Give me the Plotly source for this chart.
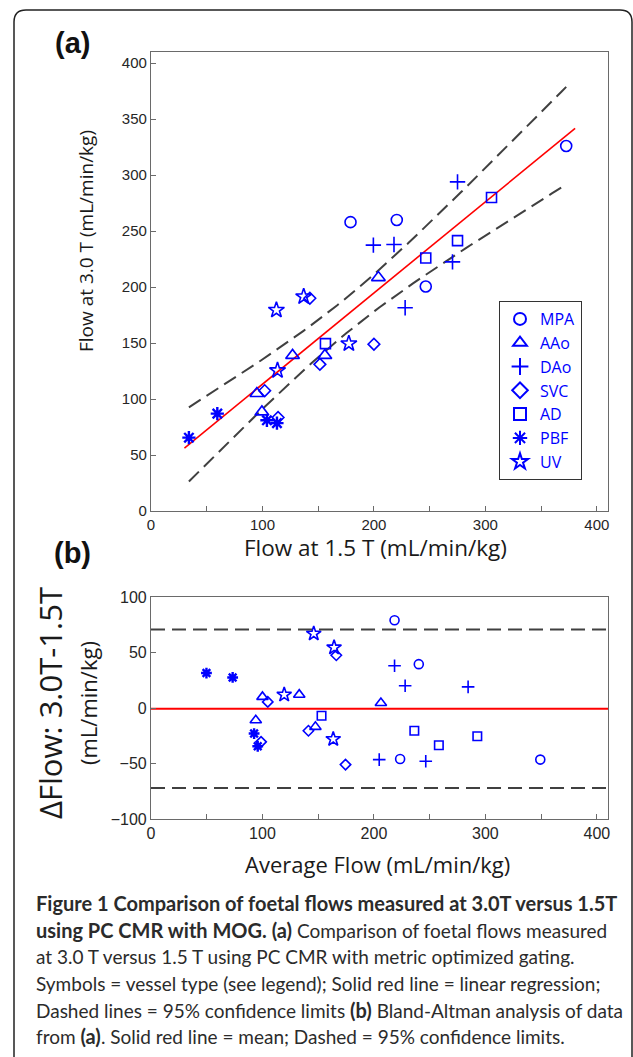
import numpy as np
import plotly.graph_objects as go

W, H = 633, 1057

# ---------------- data ----------------
vessels = ["MPA", "AAo", "DAo", "SVC", "AD", "PBF", "UV"]

mpa_15 = [179.0, 220.5, 246.5, 372.5]
mpa_30 = [258.0, 260.0, 200.5, 326.0]
aao_15 = [95.0, 99.5, 127.0, 156.0, 204.0]
aao_30 = [105.0, 88.5, 139.0, 139.0, 208.5]
dao_15 = [199.5, 218.0, 275.0, 270.5, 228.0]
dao_30 = [237.5, 238.0, 294.0, 222.5, 181.5]
svc_15 = [102.0, 114.0, 151.5, 142.5, 200.0]
svc_30 = [107.5, 83.5, 131.0, 190.0, 149.0]
ad_15 = [156.5, 305.5, 275.0, 246.5]
ad_30 = [149.5, 280.0, 241.5, 226.0]
pbf_15 = [34.0, 59.5, 104.0, 113.0]
pbf_30 = [65.5, 87.0, 81.0, 78.5]
uv_15 = [112.5, 113.5, 137.0, 177.5]
uv_30 = [179.5, 125.5, 191.5, 149.5]

flows_15 = [mpa_15, aao_15, dao_15, svc_15, ad_15, pbf_15, uv_15]
flows_30 = [mpa_30, aao_30, dao_30, svc_30, ad_30, pbf_30, uv_30]

x_ticks_a = [0, 50, 100, 150, 200, 250, 300, 350, 400]
x_ticklabels = ["0", "", "100", "", "200", "", "300", "", "400"]
y_ticks_a = [0, 50, 100, 150, 200, 250, 300, 350, 400]
y_ticks_b = [-100, -50, 0, 50, 100]

# ---------------- styles ----------------
symbols = ["circle-open", "triangle-up-open", "cross-thin-open", "diamond-open",
           "square-open", "asterisk-open", "star-open"]
sizes_a = [11, 12, 11, 9, 10, 11, 12]
sizes_b = [9, 10, 9, 8, 8.5, 9, 11]
widths = [1.6, 1.6, 1.6, 1.6, 1.6, 2.4, 1.6]
BLUE = "#0000FF"
RED = "#FF0000"
DASHC = "#404040"
AXC = "#6a6a6a"
TITLE_FONT = "Open Sans"
TICK_FONT = "Liberation Sans"
CAP_FONT = "Lato"


def px(x):
    return x / W


def py(y):
    return 1 - y / H


fig = go.Figure()

# ---------------- panel (a): regression with simultaneous 95% confidence band ----------------
all15 = np.concatenate([np.array(v, float) for v in flows_15])
all30 = np.concatenate([np.array(v, float) for v in flows_30])
n = len(all15)
slope, intercept = np.polyfit(all15, all30, 1)
resid = all30 - (slope * all15 + intercept)
s = np.sqrt(np.sum(resid ** 2) / (n - 2))
xbar = all15.mean()
sxx = np.sum((all15 - xbar) ** 2)
F95 = 3.328  # F(0.95; 2, n-2), Working-Hotelling simultaneous band
mult = np.sqrt(2 * F95)

xb = np.linspace(all15.min(), all15.max(), 80)
yb = slope * xb + intercept
hw = mult * s * np.sqrt(1.0 / n + (xb - xbar) ** 2 / sxx)

xr = np.array([all15.min() - 4, all15.max() + 8])
fig.add_trace(go.Scatter(x=xr, y=slope * xr + intercept, mode="lines",
                         line=dict(color=RED, width=1.6), showlegend=False,
                         xaxis="x", yaxis="y"))
for sign in (1, -1):
    fig.add_trace(go.Scatter(x=xb, y=yb + sign * hw, mode="lines",
                             line=dict(color=DASHC, width=2, dash="14px,7px"),
                             showlegend=False, xaxis="x", yaxis="y"))

for name, sym, sz, lw, x15, x30 in zip(vessels, symbols, sizes_a, widths, flows_15, flows_30):
    fig.add_trace(go.Scatter(x=x15, y=x30, mode="markers", name=name,
                             marker=dict(symbol=sym, size=sz, color=BLUE,
                                         line=dict(color=BLUE, width=lw)),
                             xaxis="x", yaxis="y"))

# ---------------- panel (b): Bland-Altman ----------------
diff_all = []
for name, sym, sz, lw, x15, x30 in zip(vessels, symbols, sizes_b, widths, flows_15, flows_30):
    a = (np.array(x15) + np.array(x30)) / 2
    d = np.array(x30) - np.array(x15)
    diff_all.append(d)
    fig.add_trace(go.Scatter(x=a, y=d, mode="markers", name=name, showlegend=False,
                             marker=dict(symbol=sym, size=sz, color=BLUE,
                                         line=dict(color=BLUE, width=lw)),
                             xaxis="x2", yaxis="y2"))
diffs = np.concatenate(diff_all)
mean_d = diffs.mean()
sd_d = diffs.std(ddof=1)
xfull = np.array([0, 410])
fig.add_trace(go.Scatter(x=xfull, y=[mean_d, mean_d], mode="lines",
                         line=dict(color=RED, width=1.8), showlegend=False,
                         xaxis="x2", yaxis="y2"))
for lim in (mean_d + 1.96 * sd_d, mean_d - 1.96 * sd_d):
    fig.add_trace(go.Scatter(x=xfull, y=[lim, lim], mode="lines",
                             line=dict(color=DASHC, width=2, dash="14px,7px"),
                             showlegend=False, xaxis="x2", yaxis="y2"))

axis_common = dict(showline=True, linecolor=AXC, linewidth=1.2, mirror=True,
                   ticks="inside", ticklen=5, tickcolor=AXC, tickwidth=1,
                   showgrid=False, zeroline=False, automargin=False)
tf_a = dict(family=TICK_FONT, size=15, color="#262626")
tf_b = dict(family=TICK_FONT, size=16, color="#262626")

fig.update_layout(
    width=W, height=H,
    margin=dict(l=0, r=0, t=0, b=0, autoexpand=False),
    paper_bgcolor="white", plot_bgcolor="white",
    xaxis=dict(domain=[px(151), px(608)], anchor="y", range=[0, 410],
               tickvals=x_ticks_a, ticktext=x_ticklabels, tickfont=tf_a, **axis_common),
    yaxis=dict(domain=[py(511), py(52)], anchor="x", range=[0, 410],
               tickvals=y_ticks_a, tickfont=tf_a, **axis_common),
    xaxis2=dict(domain=[px(151), px(608)], anchor="y2", range=[0, 410],
                tickvals=x_ticks_a, ticktext=x_ticklabels, tickfont=tf_b, **axis_common),
    yaxis2=dict(domain=[py(819), py(597)], anchor="x2", range=[-100, 100],
                tickvals=y_ticks_b, tickfont=tf_b, **axis_common),
    legend=dict(x=px(499), y=py(301), xanchor="left", yanchor="top",
                bordercolor="#333333", borderwidth=1, bgcolor="white",
                font=dict(family=TITLE_FONT, size=16, color=BLUE),
                itemsizing="constant", itemwidth=30),
)

ann = []
ann.append(dict(text="<b>(a)</b>", x=px(72), y=py(43), font=dict(family="Liberation Sans", size=29, color="#111")))
ann.append(dict(text="<b>(b)</b>", x=px(72), y=py(553), font=dict(family="Liberation Sans", size=29, color="#111")))
ann.append(dict(text="Flow at 1.5 T (mL/min/kg)", x=px(375), y=py(547),
                font=dict(family=TITLE_FONT, size=22.5, color="#1a1a1a")))
ann.append(dict(text="Flow at 3.0 T (mL/min/kg)", x=px(86), y=py(241), textangle=-90,
                font=dict(family=TITLE_FONT, size=19, color="#1a1a1a")))
ann.append(dict(text="ΔFlow: 3.0T-1.5T", x=px(50), y=py(703), textangle=-90,
                font=dict(family=TITLE_FONT, size=31, color="#1a1a1a")))
ann.append(dict(text="(mL/min/kg)", x=px(88), y=py(703), textangle=-90,
                font=dict(family=TITLE_FONT, size=22, color="#1a1a1a")))
ann.append(dict(text="Average Flow (mL/min/kg)", x=px(378), y=py(864),
                font=dict(family=TITLE_FONT, size=22, color="#1a1a1a")))


def B(t):
    return f'<span style="font-size:20px"><b>{t}</b></span>'


caption = [
    B("Figure 1 Comparison of foetal flows measured at 3.0T versus 1.5T"),
    B("using PC CMR with MOG. (a)") + " Comparison of foetal flows measured",
    "at 3.0 T versus 1.5 T using PC CMR with metric optimized gating.",
    "Symbols = vessel type (see legend); Solid red line = linear regression;",
    "Dashed lines = 95% confidence limits " + B("(b)") + " Bland-Altman analysis of data",
    "from " + B("(a)") + ". Solid red line = mean; Dashed = 95% confidence limits.",
]
cap_y = [903, 930, 956, 983, 1010, 1036]
for txt, yy in zip(caption, cap_y):
    ann.append(dict(text=txt, x=px(34), y=py(yy), xanchor="left",
                    font=dict(family=CAP_FONT, size=19, color="#2b2b2b")))

for a in ann:
    a.setdefault("xanchor", "center")
    a.update(xref="paper", yref="paper", yanchor="middle", showarrow=False)
fig.update_layout(annotations=ann)

# rounded figure frame
r = 12
L, T, R, Bm = 14, 10, 632, 1080
path = (f"M {px(L)},{py(Bm)} L {px(L)},{py(T + r)} Q {px(L)},{py(T)} {px(L + r)},{py(T)} "
        f"L {px(R - r)},{py(T)} Q {px(R)},{py(T)} {px(R)},{py(T + r)} L {px(R)},{py(Bm)}")
fig.add_shape(type="path", path=path, xref="paper", yref="paper",
              line=dict(color="#222", width=1.5))

fig.write_html("out.html", config={"displayModeBar": False},
               post_script="document.body.style.margin='0';document.body.style.overflow='hidden';")
